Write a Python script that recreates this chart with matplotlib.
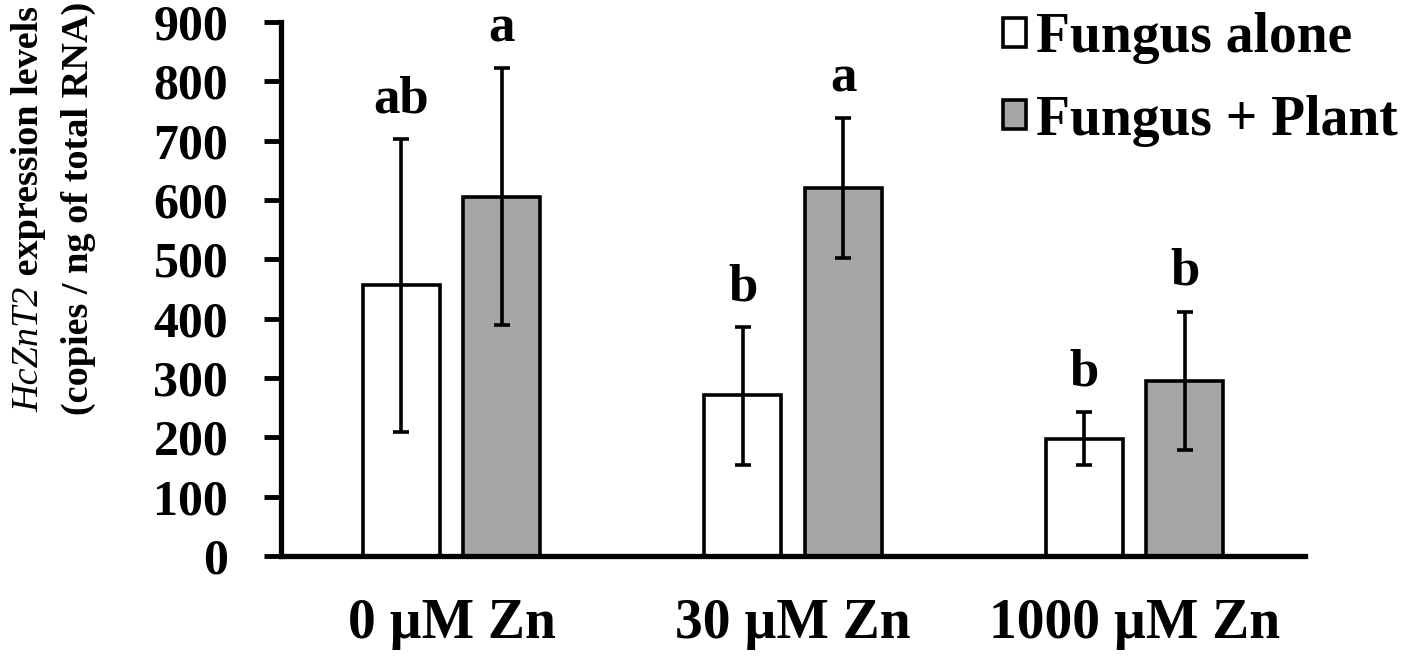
import matplotlib
matplotlib.use("Agg")
import matplotlib.pyplot as plt
import numpy as np

categories = ["0 µM Zn", "30 µM Zn", "1000 µM Zn"]
series_names = ["Fungus alone", "Fungus + Plant"]
alone_mean = [456, 271, 197]
alone_low = [209, 153, 153]
alone_high = [702, 386, 243]
plant_mean = [605, 620, 295]
plant_low = [389, 503, 178]
plant_high = [822, 738, 412]
alone_letters = ["ab", "b", "b"]
plant_letters = ["a", "a", "b"]
yticks = [0, 100, 200, 300, 400, 500, 600, 700, 800, 900]

plt.rcParams['font.family'] = ['Liberation Serif', 'DejaVu Serif']

W, H = 1417, 657
fig = plt.figure(figsize=(W / 100, H / 100), dpi=100)
ax = fig.add_axes([281 / W, 1 - 556 / H, (1305 - 281) / W, (556 - 22) / H])

x = np.arange(len(categories))
w = 0.226
off = 0.147
am = np.array(alone_mean); pm = np.array(plant_mean)
aerr = [am - np.array(alone_low), np.array(alone_high) - am]
perr = [pm - np.array(plant_low), np.array(plant_high) - pm]

ekw = dict(elinewidth=2.6, capthick=2.6)
ax.bar(x - off, am, w, color='white', edgecolor='black', linewidth=2.6,
       yerr=aerr, capsize=6, error_kw=ekw, label=series_names[0], zorder=2)
ax.bar(x + off, pm, w, color='#a6a6a6', edgecolor='black', linewidth=2.6,
       yerr=perr, capsize=6, error_kw=ekw, label=series_names[1], zorder=2)

for i in range(len(categories)):
    ax.text(x[i] - off, alone_high[i] + 45, alone_letters[i], ha='center', va='baseline',
            fontsize=38, fontweight='bold')
    ax.text(x[i] + off, plant_high[i] + 45, plant_letters[i], ha='center', va='baseline',
            fontsize=38, fontweight='bold')

ax.set_xlim(-0.5, 2.5)
ax.set_ylim(0, 900)
ax.set_yticks(yticks)
ax.set_yticklabels([str(t) for t in yticks], fontsize=36, fontweight='bold')
ax.set_xticks(x)
ax.set_xticklabels(categories, fontsize=40, fontweight='bold')
ax.tick_params(axis='x', length=0, pad=30)
ax.tick_params(axis='y', length=12, width=3.5, direction='out', pad=26)
for s in ['top', 'right']:
    ax.spines[s].set_visible(False)
ax.spines['left'].set_linewidth(3.8)
ax.spines['bottom'].set_linewidth(3.8)

# y label: italic gene name + bold remainder, rotated
t1 = fig.text(29 / W, 1 - 412 / H, "HcZnT2", rotation=90, rotation_mode='anchor',
              ha='left', va='center', fontsize=27.5, fontstyle='italic')
fig.canvas.draw()
bb = t1.get_window_extent()
fig.text(29 / W, (bb.y1 + 2) / H, " expression levels", rotation=90, rotation_mode='anchor',
         ha='left', va='center', fontsize=27.5, fontweight='bold')
fig.text(78 / W, 1 - 208 / H, "(copies / ng of total RNA)", rotation=90,
         ha='center', va='center', fontsize=27.5, fontweight='bold')

leg = fig.legend(loc='upper left', bbox_to_anchor=(1003 / W, 1 - 12 / H), frameon=False,
                 prop={'family': 'Liberation Serif', 'weight': 'bold', 'size': 40},
                 handlelength=0.42, handleheight=0.42, handletextpad=0.18,
                 labelspacing=0.55, borderpad=0, borderaxespad=0)
for p in leg.get_patches():
    p.set_linewidth(2.6)

fig.savefig("out.png", dpi=100)
